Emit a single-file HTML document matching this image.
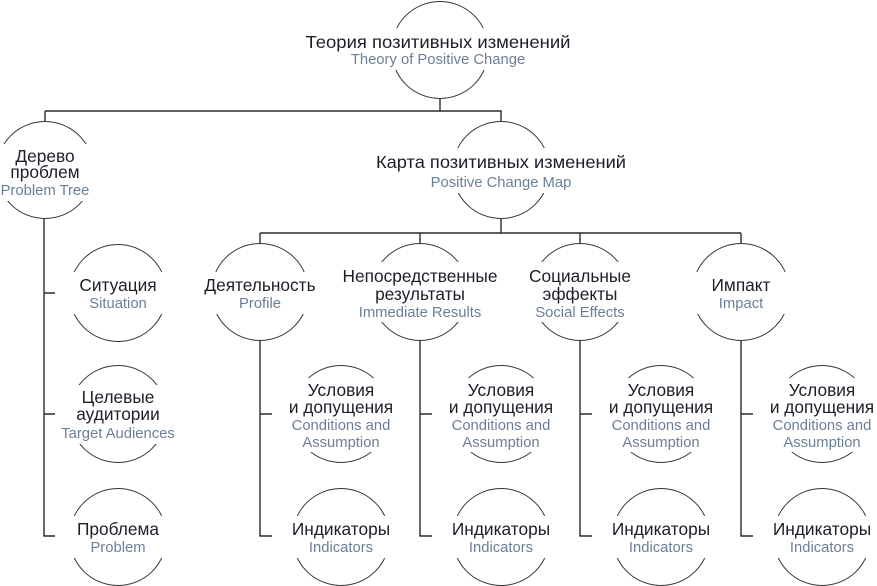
<!DOCTYPE html>
<html><head><meta charset="utf-8"><style>
html,body{margin:0;padding:0;background:#fff}
svg{display:block}
text{font-family:"Liberation Sans",sans-serif;text-anchor:middle}
.d{font-size:17.3px;fill:#1e1e2a}
.l{font-size:14.8px;fill:#6b7f98}
</style></head><body>
<svg width="877" height="586" viewBox="0 0 877 586" xmlns="http://www.w3.org/2000/svg">
<g fill="none" stroke="#2a2a2a" stroke-width="1.4">
<path d="M440 98.5V111M45 111H501V122M45 111V122"/>
<path d="M501 218.5V233M260 233H741M260 233V244M420 233V244M580 233V244M741 233V244"/>
<path d="M44 218.5V536H55M44 293H55M44 414H55"/>
<path d="M260 341V536H272M260 414H272M420 341V536H432M420 414H432M580 341V536H592M580 414H592M741 341V536H753M741 414H753"/>
</g>
<g fill="none" stroke="#333" stroke-width="1">
<circle cx="440" cy="50" r="48.5"/>
<circle cx="45" cy="170" r="48.5"/>
<circle cx="501" cy="170" r="48.5"/>
<circle cx="118" cy="293" r="48.5"/>
<circle cx="118" cy="414" r="48.5"/>
<circle cx="118" cy="537" r="48.5"/>
<circle cx="260" cy="292" r="48.5"/>
<circle cx="420" cy="292" r="48.5"/>
<circle cx="580" cy="292" r="48.5"/>
<circle cx="741" cy="292" r="48.5"/>
<circle cx="341" cy="414" r="48.5"/><circle cx="341" cy="537" r="48.5"/>
<circle cx="501" cy="414" r="48.5"/><circle cx="501" cy="537" r="48.5"/>
<circle cx="661" cy="414" r="48.5"/><circle cx="661" cy="537" r="48.5"/>
<circle cx="822" cy="414" r="48.5"/><circle cx="822" cy="537" r="48.5"/>
</g>
<g fill="#fff">
<rect x="385" y="28" width="110" height="42"/>
<rect x="-10" y="144" width="110" height="57"/>
<rect x="446" y="148" width="110" height="45"/>
<rect x="63" y="272" width="110" height="42"/>
<rect x="63" y="385" width="110" height="59"/>
<rect x="63" y="516" width="110" height="42"/>
<rect x="205" y="272" width="110" height="42"/>
<rect x="365" y="262" width="110" height="60"/>
<rect x="525" y="262" width="110" height="60"/>
<rect x="686" y="272" width="110" height="42"/>
<rect x="286" y="378" width="110" height="74"/><rect x="286" y="516" width="110" height="42"/>
<rect x="446" y="378" width="110" height="74"/><rect x="446" y="516" width="110" height="42"/>
<rect x="606" y="378" width="110" height="74"/><rect x="606" y="516" width="110" height="42"/>
<rect x="767" y="378" width="110" height="74"/><rect x="767" y="516" width="110" height="42"/>
</g>
<text class="d" x="438" y="48" textLength="265" lengthAdjust="spacingAndGlyphs">Теория позитивных изменений</text>
<text class="l" x="438" y="64">Theory of Positive Change</text>
<text class="d" x="45" y="162">Дерево</text>
<text class="d" x="45" y="178">проблем</text>
<text class="l" x="45" y="195">Problem Tree</text>
<text class="d" x="501" y="168" textLength="250" lengthAdjust="spacingAndGlyphs">Карта позитивных изменений</text>
<text class="l" x="501" y="187">Positive Change Map</text>
<text class="d" x="118" y="291">Ситуация</text>
<text class="l" x="118" y="308">Situation</text>
<text class="d" x="118" y="403">Целевые</text>
<text class="d" x="118" y="420">аудитории</text>
<text class="l" x="118" y="438">Target Audiences</text>
<text class="d" x="118" y="535">Проблема</text>
<text class="l" x="118" y="552">Problem</text>
<text class="d" x="260" y="291">Деятельность</text>
<text class="l" x="260" y="308">Profile</text>
<text class="d" x="420" y="282">Непосредственные</text>
<text class="d" x="420" y="300">результаты</text>
<text class="l" x="420" y="317">Immediate Results</text>
<text class="d" x="580" y="282">Социальные</text>
<text class="d" x="580" y="300">эффекты</text>
<text class="l" x="580" y="317">Social Effects</text>
<text class="d" x="741" y="291">Импакт</text>
<text class="l" x="741" y="308">Impact</text>
<text class="d" x="341" y="396">Условия</text><text class="d" x="341" y="413">и допущения</text><text class="l" x="341" y="430">Conditions and</text><text class="l" x="341" y="447">Assumption</text>
<text class="d" x="341" y="535">Индикаторы</text><text class="l" x="341" y="552">Indicators</text>
<text class="d" x="501" y="396">Условия</text><text class="d" x="501" y="413">и допущения</text><text class="l" x="501" y="430">Conditions and</text><text class="l" x="501" y="447">Assumption</text>
<text class="d" x="501" y="535">Индикаторы</text><text class="l" x="501" y="552">Indicators</text>
<text class="d" x="661" y="396">Условия</text><text class="d" x="661" y="413">и допущения</text><text class="l" x="661" y="430">Conditions and</text><text class="l" x="661" y="447">Assumption</text>
<text class="d" x="661" y="535">Индикаторы</text><text class="l" x="661" y="552">Indicators</text>
<text class="d" x="822" y="396">Условия</text><text class="d" x="822" y="413">и допущения</text><text class="l" x="822" y="430">Conditions and</text><text class="l" x="822" y="447">Assumption</text>
<text class="d" x="822" y="535">Индикаторы</text><text class="l" x="822" y="552">Indicators</text>
</svg>
</body></html>
